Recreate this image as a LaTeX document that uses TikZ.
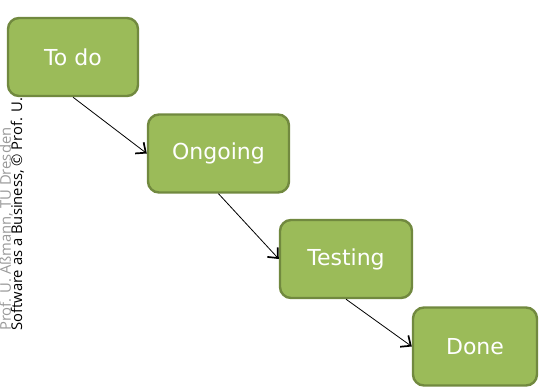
\documentclass[tikz,border=0pt]{standalone}
\usepackage{fontspec}
\setmainfont{DejaVu Sans}
\newfontfamily\sidefont{Open Sans}
\usetikzlibrary{arrows.meta}
\definecolor{boxfill}{HTML}{9BBB59}
\definecolor{boxline}{HTML}{71893F}
\definecolor{sidegray}{HTML}{999999}
\tikzset{
  stagebox/.style={draw=boxline, fill=boxfill, line width=2.4pt, rounded corners=11pt,
    text=white, font=\fontsize{22}{26}\selectfont, minimum height=78pt, inner sep=0pt},
  flow/.style={draw=black, line width=0.8pt, -{Straight Barb[length=8pt,width=14pt,line width=1.7pt]}},
  sidetext/.style={rotate=90, anchor=base west, inner sep=0pt, font=\sidefont\fontsize{14.8}{17}\selectfont}
}
\begin{document}
\begin{tikzpicture}[x=1pt,y=-1pt]
\useasboundingbox (0,0) rectangle (540,387);
\clip (0,0) rectangle (540,387);
\node[sidetext, text=sidegray] (s1) at (10.8,331) {Prof. U. Aßmann, TU Dresden};
\node[sidetext, text=black] (s2) at (22,331) {Software as a Business, © Prof. U. Aßmann};
\node[stagebox, minimum width=130pt] (todo) at (73,57) {To do};
\node[stagebox, minimum width=141pt] (ongoing) at (218.5,153.5) {Ongoing};
\node[stagebox, minimum width=132pt] (testing) at (346,259) {Testing};
\node[stagebox, minimum width=124pt] (done) at (475,346.5) {Done};
\draw[flow] (todo.south) -- (ongoing.west);
\draw[flow] (ongoing.south) -- (testing.west);
\draw[flow] (testing.south) -- (done.west);
\end{tikzpicture}
\end{document}
